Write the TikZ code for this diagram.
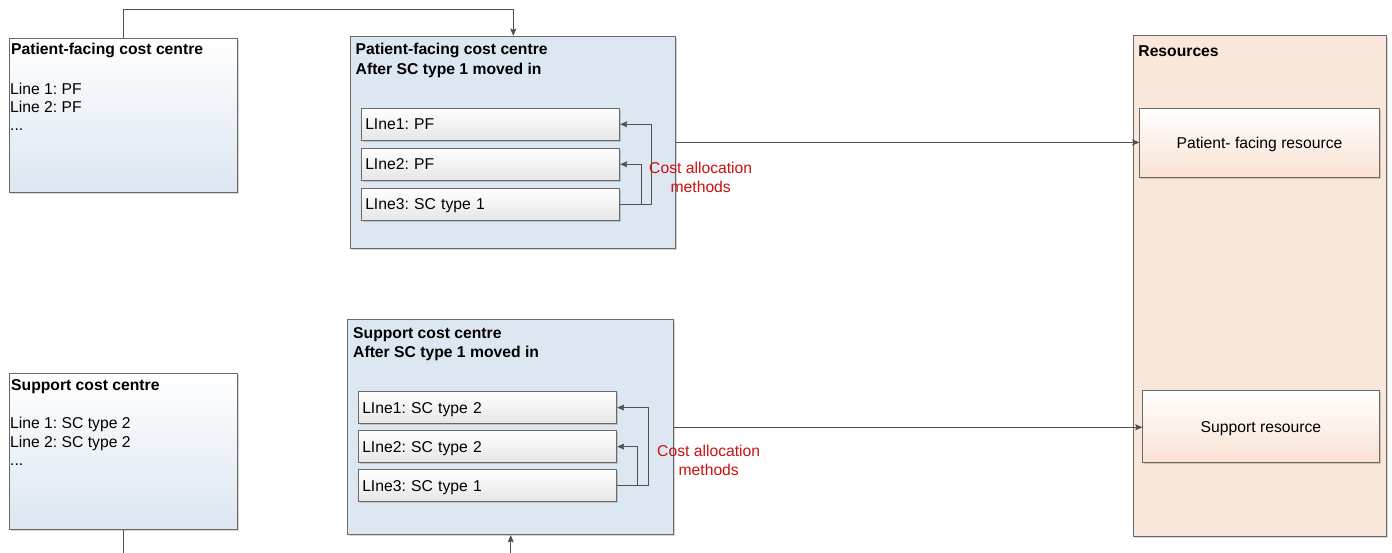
\documentclass[tikz,border=0pt]{standalone}
\usepackage{fontspec}
\setmainfont{Liberation Sans}
\usetikzlibrary{arrows.meta,shadows}
\frenchspacing

\definecolor{frame}{RGB}{105,105,105}
\definecolor{wire}{RGB}{80,80,80}
\definecolor{centreblue}{RGB}{221,231,241}
\definecolor{fadeblue}{RGB}{220,230,241}
\definecolor{rowgrey}{RGB}{230,230,230}
\definecolor{peach}{RGB}{250,231,219}
\definecolor{peachdeep}{RGB}{249,226,211}
\definecolor{allocred}{RGB}{204,16,16}

\tikzset{
  every node/.style={font=\fontsize{15.7}{19}\selectfont},
  panel/.style={draw=frame, line width=0.9pt, inner sep=0pt, anchor=north west,
    drop shadow={shadow xshift=1.6pt, shadow yshift=-1.6pt, opacity=0.28, fill=black!60}},
  srcbox/.style={panel, top color=white, bottom color=fadeblue},
  movedbox/.style={panel, fill=centreblue},
  rowbox/.style={panel, top color=white, bottom color=rowgrey, minimum height=32.3pt,
    text width=251pt, inner xsep=3.5pt, align=left, text height=11.3pt, text depth=0pt},
  resbox/.style={panel, fill=peach},
  resitem/.style={panel, top color=white, bottom color=peachdeep, align=center,
    text height=11.3pt, text depth=0pt},
  txt/.style={anchor=base west, inner sep=0pt},
  alloc/.style={text=allocred, align=center, inner sep=0pt},
  link/.style={draw=wire, line width=0.8pt},
  arr/.style={link, -{Stealth[length=7pt, width=6pt, inset=1pt]}},
}

\begin{document}
\begin{tikzpicture}[x=1pt, y=-1pt]
\useasboundingbox (0,0) rectangle (1392,553);
\fill[white] (0,0) rectangle (1392,553);

% original patient-facing cost centre
\node[srcbox, minimum width=227.7pt, minimum height=154.6pt] (pfsrc) at (9.3,37.7) {};
\node[txt] (pfsrcT) at (11,55) {\textbf{Patient-facing cost centre}};
\node[txt] (pfsrc1) at (10,95) {Line 1: PF};
\node[txt] (pfsrc2) at (10,113) {Line 2: PF};
\node[txt] (pfsrc3) at (10,130.5) {...};

% original support cost centre
\node[srcbox, minimum width=227.7pt, minimum height=156pt] (scsrc) at (9.3,373) {};
\node[txt] (scsrcT) at (11,390) {\textbf{Support cost centre}};
\node[txt] (scsrc1) at (10,428.5) {Line 1: SC type 2};
\node[txt] (scsrc2) at (10,447) {Line 2: SC type 2};
\node[txt] (scsrc3) at (10,465) {...};

% patient-facing cost centre after the move
\node[movedbox, minimum width=325pt, minimum height=212.6pt] (pfnew) at (350.3,35.7) {};
\node[txt] (pfnewT1) at (355.5,55) {\textbf{Patient-facing cost centre}};
\node[txt] (pfnewT2) at (355.5,74.6) {\textbf{After SC type 1 moved in}};
\node[rowbox] (pf1) at (361.3,107.7) {LIne1: PF};
\node[rowbox] (pf2) at (361.3,147.7) {LIne2: PF};
\node[rowbox] (pf3) at (361.3,187.7) {LIne3: SC type 1};

% support cost centre after the move
\node[movedbox, minimum width=326pt, minimum height=215pt] (scnew) at (347.3,319.3) {};
\node[txt] (scnewT1) at (353,338.3) {\textbf{Support cost centre}};
\node[txt] (scnewT2) at (353,357.3) {\textbf{After SC type 1 moved in}};
\node[rowbox] (sc1) at (358.3,391) {LIne1: SC type 2};
\node[rowbox] (sc2) at (358.3,430) {LIne2: SC type 2};
\node[rowbox] (sc3) at (358.3,469) {LIne3: SC type 1};

% resources
\node[resbox, minimum width=253pt, minimum height=500.7pt] (res) at (1132.7,35.3) {};
\node[txt] (resT) at (1138.2,56.3) {\textbf{Resources}};
\node[resitem, minimum width=239.4pt, minimum height=69.6pt] (pfres) at (1139.3,107.7) {Patient- facing resource};
\node[resitem, minimum width=236.4pt, minimum height=72.3pt] (supres) at (1142.3,390) {Support resource};

% connectors
\coordinate (topc) at (300,9.3);
\draw[arr] (pfsrc.north) |- (topc) -| (pfnew.north);

\draw[arr] (pf3.east) -| ([xshift=31.4pt]pf1.east) -- (pf1.east);
\draw[arr] (pf3.east) -| ([xshift=21pt]pf2.east) -- (pf2.east);
\draw[arr] (sc3.east) -| ([xshift=31pt]sc1.east) -- (sc1.east);
\draw[arr] (sc3.east) -| ([xshift=20.4pt]sc2.east) -- (sc2.east);

\draw[arr] (pfnew.east) -- (pfnew.east -| pfres.west);
\draw[arr] (scnew.east) -- (scnew.east -| supres.west);

\begin{scope}
  \clip (0,0) rectangle (1392,553);
  \coordinate (botc) at (300,580);
  \draw[arr] (scsrc.south) |- (botc) -| (scnew.south);
\end{scope}

% allocation notes
\node[alloc] (pfalloc) at (700.7,177) {Cost allocation\\methods};
\node[alloc] (scalloc) at (708.7,460.4) {Cost allocation\\methods};
\end{tikzpicture}
\end{document}
